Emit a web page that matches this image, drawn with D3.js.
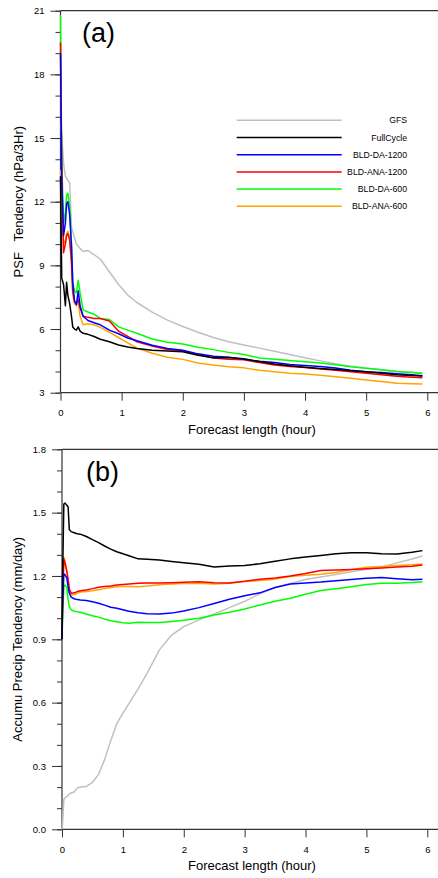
<!DOCTYPE html>
<html>
<head>
<meta charset="utf-8">
<script src="https://cdn.jsdelivr.net/npm/d3@7"></script>
<style>
  body { margin: 0; background: #fff; }
  svg { display: block; font-family: "Liberation Sans", Arial, Helvetica, sans-serif; }
</style>
</head>
<body>
<svg id="chart" width="438" height="878"></svg>
<script>
// legend / series
const seriesNames = ['GFS', 'FullCycle', 'BLD-DA-1200', 'BLD-ANA-1200', 'BLD-DA-600', 'BLD-ANA-600'];
const seriesColors = ['#c0c0c0', '#000000', '#0000ff', '#ff0000', '#00ff00', '#ffa500'];
const xTicks = [0, 1, 2, 3, 4, 5, 6];

// panel (a): PSF tendency (hPa/3Hr)
const hoursA = [0, 0.02, 0.05, 0.08, 0.1, 0.12, 0.15, 0.18, 0.2, 0.23, 0.26, 0.29, 0.32, 0.37, 0.45, 0.55, 0.65, 0.8, 0.95, 1.1,
  1.25, 1.5, 1.75, 2, 2.25, 2.5, 2.75, 3, 3.25, 3.5, 3.75, 4, 4.25, 4.5, 4.75, 5, 5.25, 5.5, 5.75, 5.92];
const gfsA = [15.7, 15.2, 13.8, 13.2, 13.1, 13.0, 12.9, 10.8, 10.6, 10.3, 10.0, 9.9, 9.8, 9.65, 9.7, 9.5, 9.3, 8.7, 8.1, 7.6,
  7.25, 6.8, 6.42, 6.12, 5.85, 5.6, 5.4, 5.25, 5.1, 4.95, 4.8, 4.65, 4.5, 4.36, 4.25, 4.15, 4.08, 4.0, 3.96, 3.93];
const fullA = [13.2, 8.4, 8.1, 7.1, 8.2, 7.6, 7.2, 6.6, 6.1, 6.0, 5.95, 6.1, 5.9, 5.8, 5.75, 5.65, 5.52, 5.4, 5.25, 5.15,
  5.08, 5.0, 4.97, 4.93, 4.76, 4.65, 4.66, 4.6, 4.47, 4.35, 4.27, 4.2, 4.14, 4.09, 4.04, 3.99, 3.92, 3.85, 3.81, 3.79];
const da1200A = [19.0, 13.0, 10.4, 11.0, 11.9, 12.0, 11.4, 9.9, 8.2, 7.3, 7.15, 7.8, 7.1, 6.6, 6.4, 6.3, 6.2, 5.95, 5.78, 5.58,
  5.45, 5.24, 5.08, 5.0, 4.83, 4.72, 4.67, 4.57, 4.48, 4.42, 4.33, 4.28, 4.24, 4.16, 4.06, 3.99, 3.95, 3.89, 3.84, 3.8];
const ana1200A = [19.5, 13.5, 9.6, 10.0, 10.4, 10.5, 10.2, 9.2, 7.8, 7.3, 7.2, 7.4, 7.0, 6.6, 6.55, 6.5, 6.5, 6.38, 5.9, 5.65,
  5.4, 5.2, 5.04, 4.98, 4.8, 4.64, 4.58, 4.55, 4.42, 4.3, 4.24, 4.19, 4.12, 4.06, 3.99, 3.92, 3.85, 3.77, 3.73, 3.71];
const da600A = [20.8, 14.0, 11.0, 11.5, 12.3, 12.4, 11.8, 10.0, 8.2, 7.8, 7.7, 8.3, 7.7, 6.9, 6.8, 6.7, 6.5, 6.45, 6.1, 5.95,
  5.8, 5.53, 5.38, 5.29, 5.14, 5.03, 4.9, 4.8, 4.64, 4.58, 4.52, 4.46, 4.4, 4.32, 4.22, 4.15, 4.08, 4.0, 3.95, 3.91];
const ana600A = [13.5, 11.0, 10.0, 10.2, 10.5, 10.6, 10.3, 9.0, 7.6, 7.2, 7.1, 7.3, 6.6, 6.2, 6.25, 6.2, 6.08, 5.85, 5.6, 5.35,
  5.1, 4.86, 4.67, 4.57, 4.4, 4.3, 4.22, 4.17, 4.06, 3.99, 3.92, 3.88, 3.82, 3.75, 3.68, 3.6, 3.53, 3.45, 3.42, 3.41];
const yTicksA = [3, 6, 9, 12, 15, 18, 21];

// panel (b): accumulated precip tendency (mm/day)
const hoursB = [0, 0.01, 0.03, 0.05, 0.08, 0.1, 0.12, 0.15, 0.2, 0.25, 0.3, 0.4, 0.5, 0.6, 0.7, 0.8, 0.9, 1.0, 1.1, 1.25,
  1.4, 1.6, 1.8, 2.0, 2.25, 2.5, 2.75, 3, 3.25, 3.5, 3.75, 4, 4.25, 4.5, 4.75, 5, 5.25, 5.5, 5.75, 5.92];
const gfsB = [0.0, 0.03, 0.14, 0.15, 0.155, 0.16, 0.168, 0.172, 0.177, 0.195, 0.2, 0.203, 0.222, 0.26, 0.33, 0.42, 0.5, 0.55, 0.595, 0.665,
  0.74, 0.85, 0.92, 0.96, 0.992, 1.02, 1.05, 1.08, 1.115, 1.145, 1.165, 1.183, 1.195, 1.207, 1.22, 1.232, 1.243, 1.262, 1.28, 1.295];
const fullB = [0.9, 1.2, 1.54, 1.545, 1.535, 1.528, 1.42, 1.41, 1.405, 1.4, 1.398, 1.387, 1.372, 1.358, 1.342, 1.327, 1.315, 1.305, 1.296, 1.281,
  1.279, 1.276, 1.269, 1.263, 1.256, 1.243, 1.247, 1.25, 1.258, 1.27, 1.281, 1.29, 1.297, 1.305, 1.31, 1.31, 1.305, 1.304, 1.312, 1.32];
const da1200B = [0.9, 1.05, 1.21, 1.205, 1.19, 1.15, 1.118, 1.1, 1.092, 1.088, 1.086, 1.084, 1.078, 1.071, 1.062, 1.052, 1.047, 1.04, 1.033, 1.026,
  1.021, 1.02, 1.024, 1.034, 1.05, 1.07, 1.09, 1.106, 1.12, 1.145, 1.162, 1.167, 1.171, 1.177, 1.183, 1.189, 1.193, 1.187, 1.182, 1.184];
const ana1200B = [0.9, 1.1, 1.28, 1.26, 1.22, 1.185, 1.14, 1.118, 1.12, 1.126, 1.13, 1.134, 1.14, 1.147, 1.15, 1.153, 1.157, 1.16, 1.162, 1.165,
  1.167, 1.167, 1.168, 1.17, 1.173, 1.168, 1.167, 1.175, 1.185, 1.19, 1.2, 1.212, 1.226, 1.228, 1.231, 1.234, 1.238, 1.242, 1.246, 1.252];
const da600B = [0.9, 1.0, 1.15, 1.157, 1.145, 1.09, 1.055, 1.04, 1.033, 1.03, 1.028, 1.02, 1.012, 1.005, 0.996, 0.988, 0.983, 0.978, 0.976, 0.981,
  0.98, 0.979, 0.984, 0.99, 1.0, 1.015, 1.028, 1.044, 1.062, 1.08, 1.094, 1.113, 1.131, 1.14, 1.149, 1.16, 1.165, 1.166, 1.169, 1.173];
const ana600B = [0.95, 1.1, 1.29, 1.27, 1.22, 1.18, 1.13, 1.11, 1.112, 1.118, 1.124, 1.126, 1.13, 1.135, 1.14, 1.145, 1.149, 1.15, 1.15, 1.149,
  1.152, 1.158, 1.162, 1.164, 1.165, 1.162, 1.166, 1.174, 1.178, 1.185, 1.197, 1.203, 1.208, 1.216, 1.23, 1.241, 1.245, 1.249, 1.253, 1.257];
const yTicksB = [0, 0.3, 0.6, 0.9, 1.2, 1.5, 1.8];

const svg = d3.select('#chart');
const W = 438;
const axisColor = '#333';
// draw gray first, black last
const drawOrder = [0, 5, 4, 3, 2, 1];

function drawPanel(p) {
  const x = d3.scaleLinear().domain([0, 6]).range([p.left, p.right]);
  const y = d3.scaleLinear().domain(p.yDomain).range([p.bottom, p.top]);
  const g = svg.append('g');

  // minor y ticks
  g.append('g')
    .attr('transform', `translate(${p.left},0)`)
    .call(d3.axisLeft(y).tickValues(d3.range(p.yDomain[0], p.yDomain[1] + 1e-9, p.minorStep)).tickSize(5).tickFormat(''))
    .call(s => s.select('.domain').remove())
    .call(s => s.selectAll('line').attr('stroke', axisColor));

  // major y ticks + labels
  g.append('g')
    .attr('transform', `translate(${p.left},0)`)
    .call(d3.axisLeft(y).tickValues(p.yTicks).tickSize(10).tickPadding(6).tickFormat(p.fmt))
    .call(s => s.select('.domain').remove())
    .call(s => s.selectAll('line').attr('stroke', axisColor))
    .call(s => s.selectAll('text').attr('font-size', 9.5).attr('fill', '#000'));

  // x ticks + labels
  g.append('g')
    .attr('transform', `translate(0,${p.bottom})`)
    .call(d3.axisBottom(x).tickValues(xTicks).tickSize(8).tickPadding(9).tickFormat(d3.format('d')))
    .call(s => s.select('.domain').remove())
    .call(s => s.selectAll('line').attr('stroke', axisColor))
    .call(s => s.selectAll('text').attr('font-size', 9.5).attr('fill', '#000'));

  // frame: left, top, bottom (the right side runs past the window)
  g.append('line').attr('x1', p.left).attr('x2', p.left).attr('y1', p.top).attr('y2', p.bottom)
    .attr('stroke', axisColor).attr('stroke-width', 1.2);
  g.append('line').attr('x1', p.left).attr('x2', W).attr('y1', p.top).attr('y2', p.top)
    .attr('stroke', axisColor).attr('stroke-width', 1.2);
  g.append('line').attr('x1', p.left).attr('x2', W).attr('y1', p.bottom).attr('y2', p.bottom)
    .attr('stroke', axisColor).attr('stroke-width', 1.2);

  const line = d3.line()
    .x((d, i) => x(p.hours[i]))
    .y(d => y(d));

  g.selectAll('path.series')
    .data(drawOrder)
    .enter()
    .append('path')
    .attr('class', 'series')
    .attr('fill', 'none')
    .attr('stroke', i => seriesColors[i])
    .attr('stroke-width', 1.5)
    .attr('stroke-linejoin', 'round')
    .attr('d', i => line(p.series[i]));

  // titles
  g.append('text')
    .attr('x', 252)
    .attr('y', p.bottom + 41)
    .attr('text-anchor', 'middle')
    .attr('font-size', 13)
    .text('Forecast length (hour)');

  g.append('text')
    .attr('transform', `translate(${p.yTitleX},${(p.top + p.bottom) / 2}) rotate(-90)`)
    .attr('text-anchor', 'middle')
    .attr('font-size', 13)
    .style('white-space', 'pre')
    .text(p.yTitle);

  g.append('text')
    .attr('x', p.tagX)
    .attr('y', p.tagY)
    .attr('font-size', 27)
    .text(p.tag);

  return { x, y, g };
}

drawPanel({
  left: 60.5, right: 427.3, top: 10.7, bottom: 392.7,
  yDomain: [3, 21], yTicks: yTicksA, minorStep: 1, fmt: d3.format('d'),
  hours: hoursA,
  series: [gfsA, fullA, da1200A, ana1200A, da600A, ana600A],
  yTitle: 'PSF   Tendency (hPa/3Hr)', yTitleX: 23,
  tag: '(a)', tagX: 82, tagY: 42
});

drawPanel({
  left: 62, right: 427.3, top: 449.3, bottom: 829.3,
  yDomain: [0, 1.8], yTicks: yTicksB, minorStep: 0.1, fmt: d3.format('.1f'),
  hours: hoursB,
  series: [gfsB, fullB, da1200B, ana1200B, da600B, ana600B],
  yTitle: 'Accumu Precip Tendency (mm/day)', yTitleX: 21.7,
  tag: '(b)', tagX: 86, tagY: 481
});

// legend in panel (a)
const legend = svg.append('g');
const rows = legend.selectAll('g')
  .data(seriesNames)
  .enter()
  .append('g')
  .attr('transform', (d, i) => `translate(0,${120.3 + i * 17.2})`);

rows.append('line')
  .attr('x1', 236.7).attr('x2', 341.7)
  .attr('stroke', (d, i) => seriesColors[i])
  .attr('stroke-width', 1.5);

rows.append('text')
  .attr('x', 407)
  .attr('dy', '0.35em')
  .attr('text-anchor', 'end')
  .attr('font-size', 8.7)
  .text(d => d);
</script>
</body>
</html>
